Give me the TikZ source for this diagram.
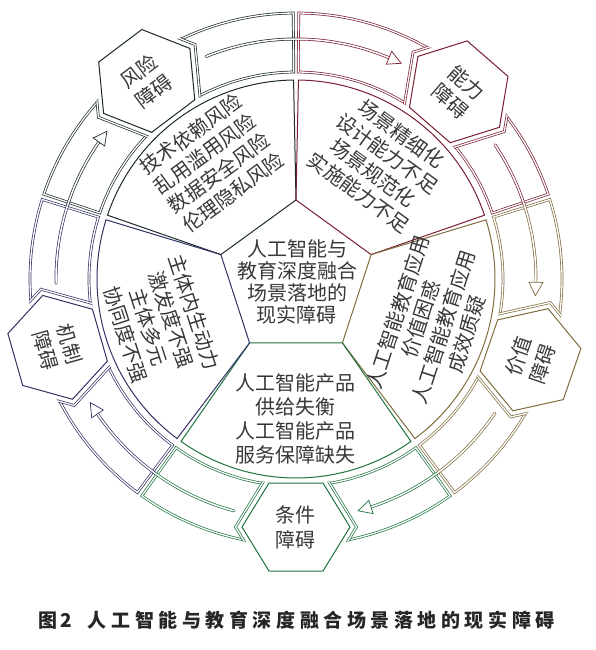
\documentclass[tikz,border=0pt]{standalone}
\usepackage{fontspec}
\setmainfont{Noto Sans CJK SC}
\usetikzlibrary{arrows.meta}
\definecolor{riskcol}{RGB}{28,42,44}
\definecolor{capcol}{RGB}{120,30,48}
\definecolor{valcol}{RGB}{128,108,62}
\definecolor{condcol}{RGB}{30,115,62}
\definecolor{mechcol}{RGB}{50,50,100}
\colorlet{txtcol}{black!78}

\tikzset{
  sectorline/.style={draw=#1, line width=1pt},
  bandline/.style={draw=#1, double=white, line width=0.7pt, double distance=1.3pt},
  arrowline/.style={draw=#1, double=white, line width=0.7pt, double distance=1.5pt},
  headline/.style={draw=#1, fill=white, line width=0.7pt, line join=miter},
  hexline/.style={draw=#1, fill=white, line width=1pt},
  blocktext/.style={text=txtcol, align=center, inner sep=0pt, font=\fontsize{20}{24}\selectfont},
  hextext/.style={text=txtcol, align=center, inner sep=0pt, font=\fontsize{20}{25}\selectfont},
}
\newcommand{\hexpath}{(-54,0) -- (-27,44) -- (27,44) -- (54,0) -- (27,-44) -- (-27,-44) -- cycle}

\begin{document}
\begin{tikzpicture}[x=1pt, y=1pt]
  \useasboundingbox (-296,-371) rectangle (299,279);

  % sectors round the pentagon, and the ring bands
  \foreach \col [count=\i from 0] in {riskcol, capcol, valcol, condcol, mechcol}{
    \pgfmathsetmacro{\sa}{162-72*\i}
    \pgfmathsetmacro{\sb}{90-72*\i}
    \draw[sectorline=\col] (\sa:79) -- ({\sa-0.7}:199)
      arc[start angle={\sa-0.7}, end angle={\sb+0.7}, radius=199] -- (\sb:79) -- cycle;
    \draw[bandline=\col] ({\sa-0.6}:207)
      arc[start angle={\sa-0.6}, end angle={\sb+0.6}, radius=207] -- ({\sb+0.6}:266)
      arc[start angle={\sb+0.6}, end angle={\sa-0.6}, radius=266] -- cycle;
  }

  % cut the bands round the hexagons
  \foreach \col/\hx in {riskcol/127, capcol/49, valcol/-19, condcol/-90, mechcol/-164}{
    \begin{scope}
      \clip ({\hx-32}:205.3) arc[start angle={\hx-32}, end angle={\hx+32}, radius=205.3]
        -- ({\hx+32}:267.7) arc[start angle={\hx+32}, end angle={\hx-32}, radius=267.7] -- cycle;
      \draw[bandline=\col, fill=white, shift={(\hx:248)}, rotate={\hx-90}, scale=1.12] \hexpath;
    \end{scope}
  }

  % arrows between the hexagons
  \foreach \cola/\colb/\ha/\hb/\spk in {riskcol/capcol/127/49/90, capcol/valcol/49/-19/18,
      valcol/condcol/-19/-90/-54, condcol/mechcol/-90/-164/-126, mechcol/riskcol/-164/-233/-198}{
    \pgfmathsetmacro{\arst}{\ha-15}
    \pgfmathsetmacro{\artp}{\hb+15}
    \pgfmathsetmacro{\arbs}{\artp+3.2}
    \draw[arrowline=\cola, line cap=round] (\arst:240) arc[start angle=\arst, end angle=\spk, radius=240];
    \draw[arrowline=\colb] (\spk:240) arc[start angle=\spk, end angle=\arbs, radius=240];
    \draw[headline=\colb] (\artp:240) -- (\arbs:247) -- (\arbs:233) -- cycle;
  }

  % hexagons
  \foreach \col/\hx in {riskcol/127, capcol/49, valcol/-19, condcol/-90, mechcol/-164}{
    \draw[hexline=\col, shift={(\hx:248)}, rotate={\hx-90}] \hexpath;
  }
  \node[hextext, rotate=37] (hexrisk) at (127:248) {风险\\障碍};
  \node[hextext, rotate=-41] (hexcap) at (49:248) {能力\\障碍};
  \node[hextext, rotate=71] (hexval) at (-19:248) {价值\\障碍};
  \node[hextext] (hexcond) at (-90:248) {条件\\障碍};
  \node[hextext, rotate=-74] (hexmech) at (-164:248) {机制\\障碍};

  % texts of the sectors
  \node[blocktext, rotate=36] (risktext) at (126:143) {技术依赖风险\\乱用滥用风险\\数据安全风险\\伦理隐私风险};
  \node[blocktext, rotate=-36] (captext) at (54:143) {场景精细化\\设计能力不足\\场景规范化\\实施能力不足};
  \node[blocktext, rotate=72] (valtext) at (-18:143) {人工智能教育应用\\价值困惑\\人工智能教育应用\\成效质疑};
  \node[blocktext] (condtext) at (-90:140) {人工智能产品\\供给失衡\\人工智能产品\\服务保障缺失};
  \node[blocktext, rotate=-72] (mechtext) at (198:143) {主体内生动力\\激发度不强\\主体多元\\协同度不强};
  \node[blocktext, font=\fontsize{20}{22}\selectfont] (centertext) at (1,-3) {人工智能与\\教育深度融合\\场景落地的\\现实障碍};

  \node[font=\fontsize{19}{19}\selectfont\bfseries, text=black!85] (caption) at (0.5,-341)
    {\addfontfeatures{LetterSpace=24}图\hspace{3pt}2\hspace{16pt}人工智能与教育深度融合场景落地的现实障碍};
\end{tikzpicture}
\end{document}
